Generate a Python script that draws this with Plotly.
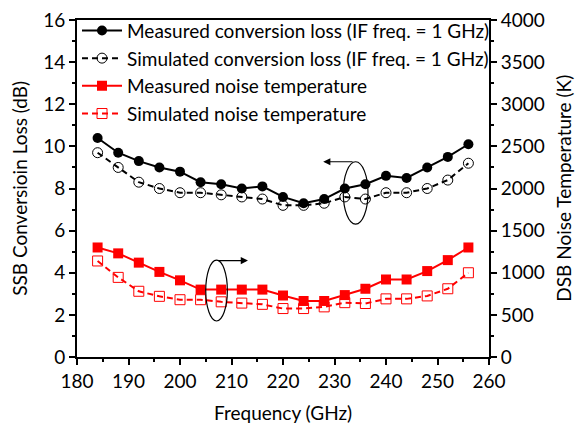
import plotly.graph_objects as go

# Frequency sweep (GHz)
freq = [184, 188, 192, 196, 200, 204, 208, 212, 216, 220,
        224, 228, 232, 236, 240, 244, 248, 252, 256]

# SSB conversion loss (dB), IF = 1 GHz
cl_measured = [10.4, 9.7, 9.3, 9.0, 8.8, 8.3, 8.2, 8.0, 8.1, 7.6,
               7.3, 7.5, 8.0, 8.2, 8.6, 8.5, 9.0, 9.5, 10.1]
cl_simulated = [9.7, 9.0, 8.3, 8.0, 7.8, 7.8, 7.7, 7.6, 7.5, 7.2,
                7.2, 7.3, 7.6, 7.5, 7.8, 7.8, 8.0, 8.4, 9.2]

# DSB noise temperature (K)
tn_measured = [1300, 1230, 1120, 1010, 910, 800, 800, 800, 800, 730,
               665, 665, 735, 810, 920, 920, 1020, 1150, 1300]
tn_simulated = [1140, 945, 780, 720, 680, 680, 655, 640, 625, 575,
                575, 595, 645, 635, 690, 690, 725, 810, 1000]

names = [
    "Measured conversion loss (IF freq. = 1 GHz)",
    "Simulated conversion loss (IF freq. = 1 GHz)",
    "Measured noise temperature",
    "Simulated noise temperature",
]

FONT = "Lato, Carlito, Calibri, sans-serif"
RED = "#ff0000"
FS = 19

fig = go.Figure()
fig.add_trace(go.Scatter(
    x=freq, y=cl_measured, name=names[0], mode="lines+markers",
    line=dict(color="black", width=2),
    marker=dict(symbol="circle", size=10, color="black"),
))
fig.add_trace(go.Scatter(
    x=freq, y=cl_simulated, name=names[1], mode="lines+markers",
    line=dict(color="black", width=2, dash="6px,4px"),
    marker=dict(symbol="circle-open", size=10, color="black", line=dict(width=1)),
))
fig.add_trace(go.Scatter(
    x=freq, y=tn_measured, name=names[2], mode="lines+markers", yaxis="y2",
    line=dict(color=RED, width=2),
    marker=dict(symbol="square", size=10, color=RED),
))
fig.add_trace(go.Scatter(
    x=freq, y=tn_simulated, name=names[3], mode="lines+markers", yaxis="y2",
    line=dict(color=RED, width=2, dash="6px,4px"),
    marker=dict(symbol="square-open", size=10, color=RED, line=dict(width=1)),
))

axis_common = dict(
    showgrid=False, zeroline=False, showline=True, linecolor="black",
    linewidth=2, ticks="outside", ticklen=6, tickwidth=1.5, tickcolor="black",
    tickfont=dict(family=FONT, size=FS, color="black"),
    automargin=False,
)

fig.update_layout(
    width=575, height=424,
    margin=dict(l=77, r=86, t=17, b=67),
    paper_bgcolor="white", plot_bgcolor="white",
    font=dict(family=FONT, color="black"),
    xaxis=dict(
        range=[180, 260], dtick=10, mirror=True,
        minor=dict(dtick=5, ticks="outside", ticklen=3, tickcolor="black"),
        **axis_common,
    ),
    yaxis=dict(
        range=[0, 16], dtick=2,
        minor=dict(dtick=1, ticks="outside", ticklen=3, tickcolor="black"),
        **axis_common,
    ),
    yaxis2=dict(
        range=[0, 4000], dtick=500, overlaying="y", side="right",
        minor=dict(dtick=250, ticks="outside", ticklen=3, tickcolor="black"),
        **axis_common,
    ),
    legend=dict(
        x=0.0, y=1.025, xanchor="left", yanchor="top",
        bgcolor="rgba(0,0,0,0)", borderwidth=0,
        font=dict(family=FONT, size=FS, color="black"),
        itemwidth=40,
    ),
    showlegend=True,
)

# Axis titles
title_font = dict(family=FONT, size=FS, color="black")
fig.add_annotation(text="Frequency (GHz)", xref="paper", yref="paper",
                   x=0.5, y=-0.165, xanchor="center", yanchor="middle",
                   showarrow=False, font=title_font)
fig.add_annotation(text="SSB Conversioin Loss (dB)", xref="paper", yref="paper",
                   x=-0.14, y=0.5, xanchor="center", yanchor="middle",
                   textangle=-90, showarrow=False, font=title_font)
fig.add_annotation(text="DSB Noise Temperature (K)", xref="paper", yref="paper",
                   x=1.18, y=0.5, xanchor="center", yanchor="middle",
                   textangle=-90, showarrow=False, font=title_font)

# Ellipses grouping each pair of curves with the axis they belong to
fig.add_shape(type="circle", xref="x", yref="y", x0=231.7, x1=236.5, y0=6.31, y1=9.27,
              line=dict(color="black", width=1.2))
fig.add_shape(type="circle", xref="x", yref="y", x0=205.0, x1=209.2, y0=1.71, y1=4.6,
              line=dict(color="black", width=1.2))

# Arrows pointing to the left and right axes
fig.add_annotation(x=227.8, y=9.27, ax=233.8, ay=9.27, xref="x", yref="y",
                   axref="x", ayref="y", text="", showarrow=True,
                   arrowhead=2, arrowsize=1.2, arrowwidth=1.2, arrowcolor="black")
fig.add_annotation(x=213.2, y=4.58, ax=207.1, ay=4.58, xref="x", yref="y",
                   axref="x", ayref="y", text="", showarrow=True,
                   arrowhead=2, arrowsize=1.2, arrowwidth=1.2, arrowcolor="black")

fig.write_html("out.html")
